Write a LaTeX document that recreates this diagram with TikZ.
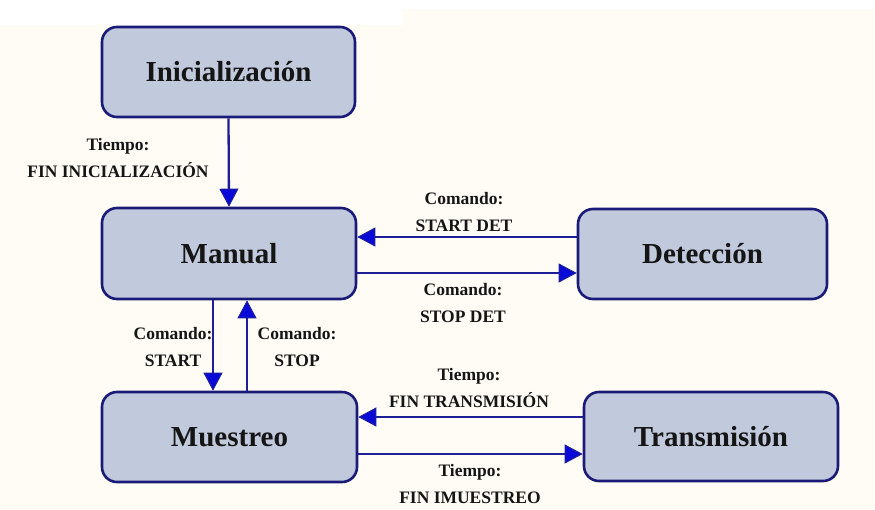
\documentclass[tikz,border=0pt]{standalone}
\usepackage{fontspec}
\setmainfont{Liberation Serif}
\usetikzlibrary{arrows.meta}
\definecolor{bgcream}{HTML}{FFFCF5}
\definecolor{boxfill}{HTML}{C1C9DC}
\definecolor{boxline}{HTML}{1A1A78}
\definecolor{arrline}{HTML}{1E1E96}
\definecolor{arrblue}{HTML}{0A0AD8}
\definecolor{txt}{HTML}{151515}
\tikzset{
  statebox/.style={draw=boxline, line width=2.6pt, fill=boxfill, rounded corners=15pt,
    font=\fontsize{29}{32}\selectfont\bfseries, text=txt, inner sep=0pt},
  arr/.style={draw=arrline, line width=2.3pt,
    -{Triangle[length=18pt,width=19pt,fill=arrblue,line width=1pt]}},
  lbl/.style={font=\fontsize{17.5}{27}\selectfont\bfseries, text=txt, align=center, inner sep=0pt}
}
\begin{document}
\begin{tikzpicture}[x=1pt,y=-1pt]
\useasboundingbox (0,0) rectangle (875,509);
\fill[bgcream] (0,0) rectangle (875,509);
\fill[white] (0,0) rectangle (875,9);
\fill[white] (0,0) rectangle (403,25);

\node[statebox, minimum width=253pt, minimum height=90pt] (init) at (228.5,72) {Inicialización};
\node[statebox, minimum width=254pt, minimum height=91pt] (manual) at (229,253.5) {Manual};
\node[statebox, minimum width=255pt, minimum height=90pt] (muest) at (229.5,437) {Muestreo};
\node[statebox, minimum width=249pt, minimum height=90pt] (detec) at (702.5,254) {Detección};
\node[statebox, minimum width=254pt, minimum height=89pt] (trans) at (711,436.5) {Transmisión};

\coordinate (ya) at (0,237);
\coordinate (yb) at (0,273);
\coordinate (yc) at (0,417);
\coordinate (yd) at (0,454);
\coordinate (xa) at (213,0);
\coordinate (xb) at (247,0);

\draw[arr] (init.south) -- (manual.north);
\draw[arr] (detec.west |- ya) -- (manual.east |- ya);
\draw[arr] (manual.east |- yb) -- (detec.west |- yb);
\draw[arr] (xa |- manual.south) -- (xa |- muest.north);
\draw[arr] (xb |- muest.north) -- (xb |- manual.south);
\draw[arr] (trans.west |- yc) -- (muest.east |- yc);
\draw[arr] (muest.east |- yd) -- (trans.west |- yd);

\node[lbl] (l1) at (118,158) {Tiempo:\\FIN INICIALIZACIÓN};
\node[lbl] (l2) at (464,212) {Comando:\\START DET};
\node[lbl] (l3) at (463,303.5) {Comando:\\STOP DET};
\node[lbl] (l4) at (173,347) {Comando:\\START};
\node[lbl] (l5) at (297,347) {Comando:\\STOP};
\node[lbl] (l6) at (469,388) {Tiempo:\\FIN TRANSMISIÓN};
\node[lbl] (l7) at (470,484.5) {Tiempo:\\FIN IMUESTREO};
\end{tikzpicture}
\end{document}
